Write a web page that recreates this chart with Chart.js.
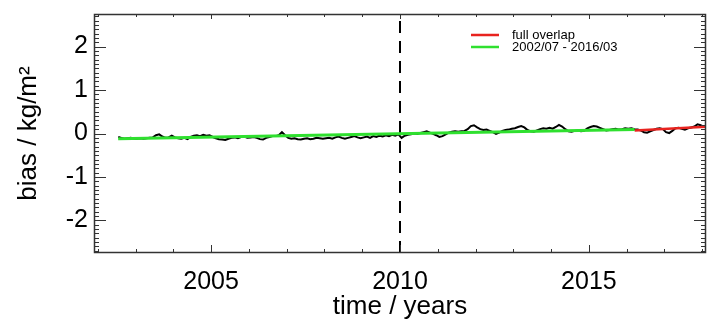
<!DOCTYPE html>
<html>
<head>
<meta charset="utf-8">
<script src="https://cdn.jsdelivr.net/npm/chart.js@4/dist/chart.umd.min.js"></script>
<style>
    html, body { margin: 0; padding: 0; background: #fff; }
</style>
</head>
<body>
<canvas id="biasChart" width="707" height="325"></canvas>
<script>
// DATA
const startYear = 2002;
const startMonth = 7;

// monthly bias, 2002/07 .. 2018/01
const biasValues = [
    -0.08, -0.10, -0.12, -0.11, -0.10, -0.12,
    -0.12, -0.11, -0.12, -0.11, -0.10, -0.09, -0.04, -0.02, -0.07, -0.10, -0.09, -0.05,
    -0.09, -0.11, -0.12, -0.10, -0.13, -0.08, -0.05, -0.04, -0.06, -0.03, -0.05, -0.04,
    -0.08, -0.11, -0.13, -0.14, -0.15, -0.12, -0.10, -0.09, -0.11, -0.08, -0.07, -0.10,
    -0.09, -0.08, -0.10, -0.13, -0.14, -0.10, -0.08, -0.06, -0.06, -0.04, 0.03, -0.04,
    -0.10, -0.12, -0.11, -0.13, -0.14, -0.12, -0.11, -0.13, -0.12, -0.10, -0.11, -0.12,
    -0.11, -0.10, -0.12, -0.09, -0.07, -0.10, -0.12, -0.10, -0.08, -0.06, -0.09, -0.11,
    -0.09, -0.07, -0.10, -0.06, -0.08, -0.05, -0.07, -0.04, -0.06, -0.03, -0.05, -0.02,
    -0.10, -0.05, -0.03, -0.02, 0.00, -0.01, 0.01, 0.03, 0.05, 0.02, -0.01, -0.04,
    -0.08, -0.06, -0.02, 0.02, 0.04, 0.05, 0.04, 0.05, 0.06, 0.10, 0.17, 0.19,
    0.14, 0.10, 0.08, 0.09, 0.06, 0.03, -0.01, 0.02, 0.06, 0.08, 0.09, 0.11,
    0.12, 0.15, 0.17, 0.14, 0.08, 0.05, 0.04, 0.07, 0.10, 0.12, 0.11, 0.13,
    0.11, 0.15, 0.20, 0.16, 0.10, 0.05, 0.04, 0.06, 0.07, 0.05, 0.06, 0.12,
    0.15, 0.17, 0.16, 0.13, 0.10, 0.07, 0.08, 0.10, 0.11, 0.09, 0.10, 0.12,
    0.11, 0.12, 0.10, 0.09, 0.07, 0.03, 0.02, 0.05, 0.08, 0.11, 0.12, 0.10,
    0.03, 0.01, 0.06, 0.12, 0.13, 0.11, 0.09, 0.12, 0.14, 0.16, 0.21, 0.19,
    0.15
];

// linear fits
const fullOverlapYears = [2016.21, 2018.1];
const fullOverlapValues = [0.07, 0.155];
const partYears = [2002.54, 2016.21];
const partValues = [-0.12, 0.09];

const splitYear = 2010;
const xTicks = [2005, 2010, 2015];
const yTicks = [-2, -1, 0, 1, 2];
const xRange = [2001.9, 2018.1];
const yRange = [-2.75, 2.75];

const FONT = "'Liberation Sans', Arial, sans-serif";

// BUILD POINTS
const biasPoints = biasValues.map((v, i) => ({
    x: startYear + (startMonth - 1 + i + 0.5) / 12,
    y: v
}));
const toPoints = (xs, ys) => xs.map((x, i) => ({ x: x, y: ys[i] }));

// FRAME, INWARD TICKS, LEGEND
const idlFrame = {
    id: "idlFrame",
    afterDraw(chart) {
        const c = chart.ctx;
        const a = chart.chartArea;
        const xs = chart.scales.x;
        const ys = chart.scales.y;

        c.save();
        c.strokeStyle = "#333";
        c.lineWidth = 1;
        c.beginPath();

        // x ticks, bottom + top
        for (let yr = Math.ceil(xRange[0]); yr <= xRange[1]; yr++) {
            const px = Math.round(xs.getPixelForValue(yr)) + 0.5;
            const major = xTicks.includes(yr);
            const lb = major ? 8 : 4;
            const lt = major ? 5 : 3;
            c.moveTo(px, a.bottom); c.lineTo(px, a.bottom - lb);
            c.moveTo(px, a.top); c.lineTo(px, a.top + lt);
        }

        // y ticks, left + right
        for (let k = -27; k <= 27; k++) {
            const v = k / 10;
            const py = Math.round(ys.getPixelForValue(v)) + 0.5;
            const major = k % 10 === 0 && yTicks.includes(v);
            const len = major ? 12 : 5;
            c.moveTo(a.left, py); c.lineTo(a.left + len, py);
            c.moveTo(a.right, py); c.lineTo(a.right - len, py);
        }
        c.stroke();

        c.lineWidth = 1.5;
        c.strokeRect(a.left + 0.5, a.top + 0.5, a.right - a.left - 1, a.bottom - a.top - 1);

        // legend
        const items = chart.data.datasets.filter(d => d.inLegend);
        c.font = "13px " + FONT;
        c.textBaseline = "middle";
        c.textAlign = "left";
        items.forEach((d, i) => {
            const y = 35 + i * 12;
            c.strokeStyle = d.borderColor;
            c.lineWidth = 2.5;
            c.beginPath();
            c.moveTo(471, y);
            c.lineTo(499, y);
            c.stroke();
            c.fillStyle = "#000";
            c.fillText(d.label, 512, y);
        });
        c.restore();
    }
};

// CREATE CHART
const ctx = document.getElementById("biasChart");

const chart = new Chart(ctx, {
    type: "scatter",
    data: {
        datasets: [
            {
                label: "bias",
                data: biasPoints,
                showLine: true,
                borderColor: "#000",
                borderWidth: 2,
                pointRadius: 0,
                order: 3
            },
            {
                label: "split",
                data: [{ x: splitYear, y: yRange[0] }, { x: splitYear, y: yRange[1] }],
                showLine: true,
                borderColor: "#000",
                borderWidth: 2,
                borderDash: [12, 8],
                pointRadius: 0,
                order: 4
            },
            {
                label: "full overlap",
                inLegend: true,
                data: toPoints(fullOverlapYears, fullOverlapValues),
                showLine: true,
                borderColor: "#e8231f",
                borderWidth: 2.5,
                pointRadius: 0,
                order: 2
            },
            {
                label: "2002/07 - 2016/03",
                inLegend: true,
                data: toPoints(partYears, partValues),
                showLine: true,
                borderColor: "#2fe02f",
                borderWidth: 3,
                pointRadius: 0,
                order: 1
            }
        ]
    },
    options: {
        responsive: false,
        animation: false,
        devicePixelRatio: 1,
        layout: { padding: { top: 14, right: 1, left: 0, bottom: 0 } },
        plugins: {
            legend: { display: false },
            tooltip: { enabled: false }
        },
        scales: {
            x: {
                type: "linear",
                min: xRange[0],
                max: xRange[1],
                afterFit: s => {
                    s.height = 72;
                    s.paddingLeft = 0;
                    s.paddingRight = 0;
                },
                afterBuildTicks: s => { s.ticks = xTicks.map(v => ({ value: v })); },
                grid: { display: false, drawTicks: false },
                border: { display: false },
                ticks: {
                    color: "#000",
                    padding: 14,
                    font: { family: FONT, size: 25 },
                    callback: v => String(v)
                },
                title: {
                    display: true,
                    text: "time / years",
                    color: "#000",
                    font: { family: FONT, size: 26 },
                    padding: { top: 0, bottom: 3 }
                }
            },
            y: {
                min: yRange[0],
                max: yRange[1],
                afterFit: s => {
                    s.width = 94;
                    s.paddingTop = 0;
                    s.paddingBottom = 0;
                },
                afterBuildTicks: s => { s.ticks = yTicks.map(v => ({ value: v })); },
                grid: { display: false, drawTicks: false },
                border: { display: false },
                ticks: {
                    color: "#000",
                    padding: 6,
                    font: { family: FONT, size: 25 },
                    callback: v => String(v)
                },
                title: {
                    display: true,
                    text: "bias / kg/m²",
                    color: "#000",
                    font: { family: FONT, size: 26 },
                    padding: { top: 13, bottom: 0 }
                }
            }
        }
    },
    plugins: [idlFrame]
});
</script>
</body>
</html>
